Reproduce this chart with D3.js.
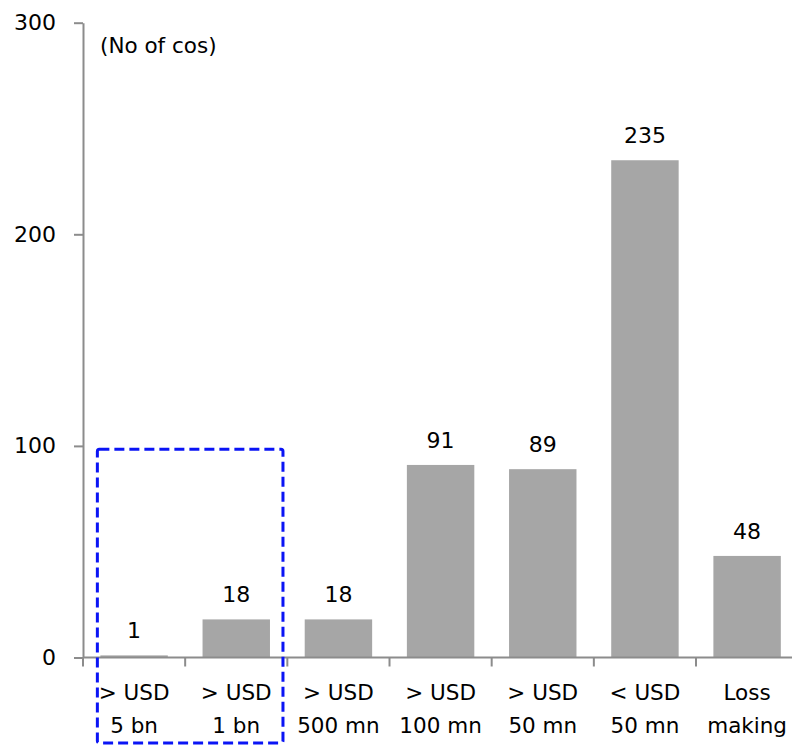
<!DOCTYPE html>
<html>
<head>
<meta charset="utf-8">
<script src="https://cdn.jsdelivr.net/npm/d3@7"></script>
<style>
  html, body { margin: 0; padding: 0; background: #fff; }
  svg { display: block; }
  text { font-family: "DejaVu Sans", sans-serif; fill: #000; }
</style>
</head>
<body>
<svg id="chart" width="792" height="746"></svg>
<script>
// Number of companies by profit bucket
const categories = [
  ["> USD", "5 bn"],
  ["> USD", "1 bn"],
  ["> USD", "500 mn"],
  ["> USD", "100 mn"],
  ["> USD", "50 mn"],
  ["< USD", "50 mn"],
  ["Loss", "making"]
];
const counts = [1, 18, 18, 91, 89, 235, 48];
const yTicks = [0, 100, 200, 300];
const unitLabel = "(No of cos)";
// Buckets grouped by the dashed highlight
const highlighted = [0, 1];
const highlightTop = 98;

const svg = d3.select("#chart");
const plotLeft = 83, plotTop = 22.7, plotBottom = 657.5, step = 102.17;
const keys = categories.map((c, i) => i);
const fontFamily = "'DejaVu Sans', sans-serif";

const x = d3.scaleBand()
  .domain(keys)
  .range([plotLeft, plotLeft + step * keys.length])
  .paddingInner(0.34)
  .paddingOuter(0.17);

const y = d3.scaleLinear().domain([0, 300]).range([plotBottom, plotTop]);

const axisColor = "#8c8c8c";

// Bars
svg.append("g").selectAll("rect")
  .data(counts)
  .join("rect")
  .attr("x", (d, i) => x(i))
  .attr("y", d => y(d))
  .attr("width", x.bandwidth())
  .attr("height", d => y(0) - y(d))
  .attr("fill", "#a6a6a6");

// Value labels
svg.append("g").selectAll("text")
  .data(counts)
  .join("text")
  .attr("x", (d, i) => x(i) + x.bandwidth() / 2)
  .attr("y", d => y(d) - 17)
  .attr("text-anchor", "middle")
  .attr("font-size", 22)
  .text(d => d);

// Y axis
const yAxis = svg.append("g")
  .attr("transform", `translate(${plotLeft},0)`)
  .call(d3.axisLeft(y).tickValues(yTicks).tickSize(9).tickSizeOuter(0).tickPadding(18));
yAxis.select(".domain").attr("stroke", axisColor).attr("stroke-width", 2);
yAxis.selectAll(".tick line").attr("stroke", axisColor).attr("stroke-width", 2);
yAxis.selectAll(".tick text").attr("font-size", 22).attr("font-family", fontFamily).attr("fill", "#000");

// X axis line with ticks at category boundaries
const xAxis = svg.append("g");
xAxis.append("line")
  .attr("x1", plotLeft).attr("x2", x.range()[1])
  .attr("y1", y(0)).attr("y2", y(0))
  .attr("stroke", axisColor).attr("stroke-width", 2);
const boundaries = keys.map(i => x(i) - x.step() * x.paddingInner() / 2);
boundaries[0] = plotLeft;
xAxis.selectAll("line.tick")
  .data(boundaries)
  .join("line")
  .attr("class", "tick")
  .attr("x1", d => d).attr("x2", d => d)
  .attr("y1", y(0)).attr("y2", y(0) + 9)
  .attr("stroke", axisColor).attr("stroke-width", 2);

// Category labels (two lines)
const catLabels = xAxis.selectAll("text.cat")
  .data(categories)
  .join("text")
  .attr("class", "cat")
  .attr("text-anchor", "middle")
  .attr("font-size", 21.5)
  .attr("x", (d, i) => x(i) + x.bandwidth() / 2);
catLabels.append("tspan")
  .attr("x", (d, i) => x(i) + x.bandwidth() / 2)
  .attr("y", 700)
  .text(d => d[0]);
catLabels.append("tspan")
  .attr("x", (d, i) => x(i) + x.bandwidth() / 2)
  .attr("y", 733)
  .text(d => d[1]);

// Unit label
svg.append("text")
  .attr("x", 100)
  .attr("y", 53)
  .attr("font-size", 21.5)
  .text(unitLabel);

// Dashed highlight around the largest buckets
const hx0 = x(highlighted[0]) - 3;
const hx1 = x(highlighted[highlighted.length - 1]) + x.bandwidth() + 13;
svg.append("rect")
  .attr("x", hx0)
  .attr("y", y(highlightTop) - 1)
  .attr("width", hx1 - hx0)
  .attr("height", 743 - y(highlightTop) + 1)
  .attr("rx", 2)
  .attr("fill", "none")
  .attr("stroke", "#0a14f5")
  .attr("stroke-width", 3)
  .attr("stroke-dasharray", "10,5");
</script>
</body>
</html>
